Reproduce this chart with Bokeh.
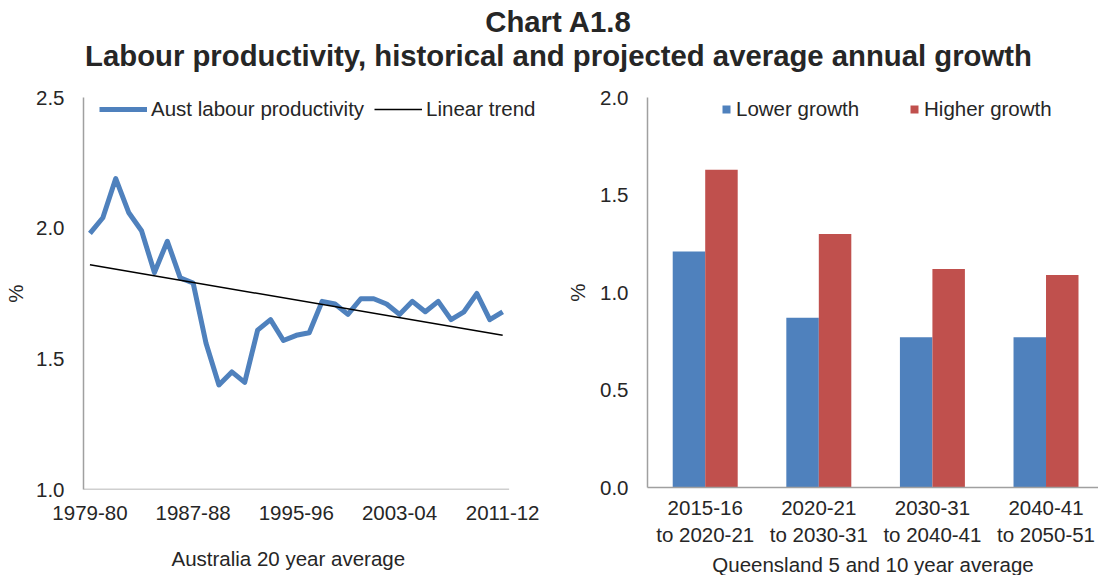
from bokeh.plotting import figure
from bokeh.models import (Range1d, FixedTicker, Legend, LegendItem, Label,
                          ColumnDataSource, Title)
from bokeh.layouts import column, row
from bokeh.embed import file_html
from bokeh.resources import INLINE

# ---------------- data ----------------
title_line1 = "Chart A1.8"
title_line2 = "Labour productivity, historical and projected average annual growth"

# Left: Australia 20 year average, 1979-80 .. 2011-12
aust_productivity = [1.98, 2.04, 2.19, 2.06, 1.99, 1.83, 1.95, 1.81, 1.79, 1.56,
                     1.40, 1.45, 1.41, 1.61, 1.65, 1.57, 1.59, 1.60, 1.72, 1.71,
                     1.67, 1.73, 1.73, 1.71, 1.67, 1.72, 1.68, 1.72, 1.65, 1.68,
                     1.75, 1.65, 1.68]
trend_ends = [1.86, 1.59]
left_tick_labels = ["1979-80", "1987-88", "1995-96", "2003-04", "2011-12"]
left_tick_pos = [0, 8, 16, 24, 32]

# Right: Queensland 5 and 10 year average
periods = ["2015-16\nto 2020-21", "2020-21\nto 2030-31",
           "2030-31\nto 2040-41", "2040-41\nto 2050-51"]
lower_growth = [1.21, 0.87, 0.77, 0.77]
higher_growth = [1.63, 1.30, 1.12, 1.09]

FONT = "Liberation Sans"
TXT = "#262626"
AX = "#a0a0a0"
BLUE = "#4f81bd"
RED = "#c0504d"
FS = "20.5px"


def style_axes(p):
    for ax in (p.xaxis[0], p.yaxis[0]):
        ax.axis_line_color = AX
        ax.axis_line_width = 1.5
        ax.major_tick_out = 0
        ax.major_tick_in = 0
        ax.minor_tick_out = 0
        ax.minor_tick_in = 0
        ax.major_label_text_font = FONT
        ax.major_label_text_font_size = FS
        ax.major_label_text_color = TXT
        ax.axis_label_text_font = FONT
        ax.axis_label_text_font_size = FS
        ax.axis_label_text_font_style = "normal"
        ax.axis_label_text_color = TXT
    p.xgrid.visible = False
    p.ygrid.visible = False
    p.outline_line_color = None


# ---------------- header ----------------
head = figure(width=1098, height=80, x_range=Range1d(0, 1), y_range=Range1d(0, 1),
              x_axis_location=None, y_axis_location=None, toolbar_location=None,
              output_backend="svg", min_border=0)
head.outline_line_color = None
head.xgrid.visible = False
head.ygrid.visible = False
for txt, yy in ((title_line1, 59), (title_line2, 25)):
    head.add_layout(Label(x=558, y=yy, x_units="screen", y_units="screen", text=txt,
                          text_align="center", text_baseline="middle",
                          text_font=FONT, text_font_size="29.3px",
                          text_font_style="bold", text_color=TXT))

# ---------------- left chart ----------------
xs = list(range(len(aust_productivity)))
x_lo, x_hi = xs[0] - 0.5, xs[-1] + 0.5
left = figure(frame_width=462, frame_height=392, x_range=Range1d(x_lo, 35.32),
              y_range=Range1d(1.0, 2.5), toolbar_location=None, output_backend="svg",
              min_border_left=83, min_border_right=15, min_border_top=17,
              min_border_bottom=86)
r1 = left.line(xs, aust_productivity, line_color=BLUE, line_width=5,
               line_join="round")
r2 = left.line([xs[0], xs[-1]], trend_ends, line_color="black", line_width=1.5)
style_axes(left)
# x axis base line only over the category span
left.xaxis[0].axis_line_color = None
left.segment(x0=[x_lo], y0=[1.0], x1=[x_hi], y1=[1.0], line_color=AX, line_width=1.5)
left.yaxis[0].ticker = FixedTicker(ticks=[1.0, 1.5, 2.0, 2.5])
left.yaxis[0].major_label_overrides = {1.0: "1.0", 1.5: "1.5", 2.0: "2.0", 2.5: "2.5"}
left.yaxis[0].major_label_standoff = 19
left.yaxis[0].axis_label = "%"
left.yaxis[0].axis_label_standoff = 6
left.xaxis[0].ticker = FixedTicker(ticks=left_tick_pos)
left.xaxis[0].major_label_overrides = {p: l for p, l in zip(left_tick_pos, left_tick_labels)}
left.xaxis[0].major_label_standoff = 16
left.add_layout(Title(text="Australia 20 year average", align="left", offset=88,
                      text_font=FONT, text_font_size=FS, text_font_style="normal",
                      text_color=TXT, standoff=44), "below")

leg1 = Legend(items=[LegendItem(label="Aust labour productivity", renderers=[r1]),
                     LegendItem(label="Linear trend", renderers=[r2])],
              orientation="horizontal", location=(16, 368), padding=0, margin=0,
              spacing=10, glyph_width=48, label_standoff=4,
              label_text_font=FONT, label_text_font_size=FS,
              label_text_color=TXT, border_line_color=None,
              background_fill_alpha=0)
left.add_layout(leg1, "center")

# ---------------- right chart ----------------
cx = list(range(len(periods)))
right = figure(frame_width=451, frame_height=390, x_range=Range1d(-0.508, 3.462),
               y_range=Range1d(0, 2.0), toolbar_location=None, output_backend="svg",
               min_border_left=87, min_border_right=0, min_border_top=14,
               min_border_bottom=91)
src = ColumnDataSource(dict(xl=[c - 0.143 for c in cx], xh=[c + 0.143 for c in cx],
                            lo=lower_growth, hi=higher_growth))
b1 = right.vbar(x="xl", top="lo", bottom=0, width=0.286, source=src,
                fill_color=BLUE, line_color=None)
b2 = right.vbar(x="xh", top="hi", bottom=0, width=0.286, source=src,
                fill_color=RED, line_color=None)
style_axes(right)
right.yaxis[0].ticker = FixedTicker(ticks=[0, 0.5, 1.0, 1.5, 2.0])
right.yaxis[0].major_label_overrides = {0: "0.0", 0.5: "0.5", 1: "1.0", 1.5: "1.5", 2: "2.0"}
right.yaxis[0].major_label_standoff = 19
right.yaxis[0].axis_label = "%"
right.yaxis[0].axis_label_standoff = 8
right.xaxis[0].ticker = FixedTicker(ticks=cx)
right.xaxis[0].major_label_overrides = {c: l for c, l in zip(cx, periods)}
right.xaxis[0].major_label_standoff = 8
right.xaxis[0].axis_label = "Queensland 5 and 10 year average"
right.xaxis[0].axis_label_standoff = 4

leg2 = Legend(items=[LegendItem(label="Lower growth", renderers=[b1]),
                     LegendItem(label="Higher growth", renderers=[b2])],
              orientation="horizontal", location=(74, 366), padding=0, margin=0,
              spacing=50, glyph_width=10, glyph_height=10, label_standoff=5,
              label_text_font=FONT, label_text_font_size=FS,
              label_text_color=TXT, border_line_color=None,
              background_fill_alpha=0)
right.add_layout(leg2, "center")

layout = column(head, row(left, right, spacing=0), spacing=0)
open("out.html", "w").write(file_html(layout, INLINE))
